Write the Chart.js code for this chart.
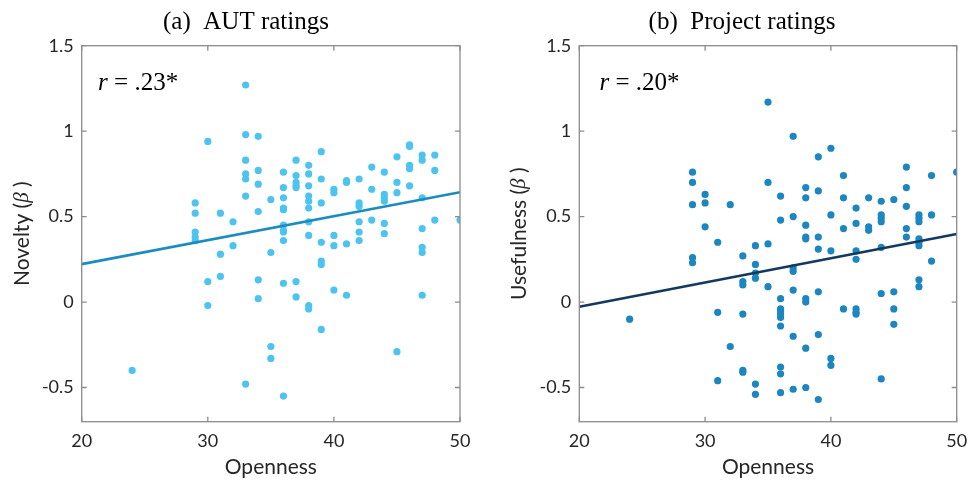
<!DOCTYPE html>
<html>
<head>
<meta charset="utf-8">
<script src="https://cdn.jsdelivr.net/npm/chart.js@4.4.0/dist/chart.umd.min.js"></script>
<style>
  html, body { margin: 0; padding: 0; background: #fff; }
  .panel { position: absolute; top: 0; height: 483px; }
  #panelA { left: 0; width: 484px; }
  #panelB { left: 485px; width: 484px; }
</style>
</head>
<body>
<div class="panel" id="panelA"><canvas id="chartA"></canvas></div>
<div class="panel" id="panelB"><canvas id="chartB"></canvas></div>
<script>
// axis ticks (shared by both panels)
const xTicks = [20, 30, 40, 50];
const yTicks = [-0.5, 0, 0.5, 1, 1.5];

// (a) AUT ratings: openness vs novelty beta
const autOpenness = [24,
  29, 29, 29, 29, 29,
  30, 30, 30,
  31, 31, 31,
  32, 32,
  33, 33, 33, 33, 33, 33, 33,
  34, 34, 34, 34, 34, 34,
  35, 35, 35, 35,
  36, 36, 36, 36, 36, 36, 36, 36, 36, 36, 36,
  37, 37, 37, 37, 37, 37, 37,
  38, 38, 38, 38, 38, 38, 38, 38, 38, 38,
  39, 39, 39, 39, 39, 39, 39,
  40, 40, 40, 40, 40,
  41, 41, 41, 41,
  42, 42, 42, 42, 42, 42,
  43, 43, 43,
  44, 44, 44, 44, 44, 44,
  45, 45, 45, 45,
  46, 46, 46, 46, 46,
  47, 47, 47, 47, 47, 47, 47,
  48, 48, 48,
  50];
const autNovelty = [-0.40,
  0.58, 0.52, 0.41, 0.38, 0.36,
  0.94, 0.12, -0.02,
  0.52, 0.28, 0.15,
  0.47, 0.33,
  1.27, 0.98, 0.83, 0.75, 0.72, 0.62, -0.48,
  0.97, 0.77, 0.69, 0.53, 0.13, 0.02,
  0.60, 0.29, -0.26, -0.33,
  0.76, 0.67, 0.61, 0.55, 0.54, 0.45, 0.42, 0.41, 0.36, 0.11, -0.55,
  0.83, 0.74, 0.70, 0.68, 0.67, 0.12, 0.03,
  0.80, 0.75, 0.68, 0.62, 0.59, 0.55, 0.47, 0.39, -0.02, -0.04,
  0.88, 0.72, 0.58, 0.35, 0.24, 0.22, -0.16,
  0.66, 0.64, 0.39, 0.33, 0.07,
  0.71, 0.70, 0.34, 0.04,
  0.72, 0.58, 0.56, 0.47, 0.41, 0.36,
  0.79, 0.66, 0.48,
  0.76, 0.63, 0.61, 0.59, 0.46, 0.40,
  0.85, 0.70, 0.64, -0.29,
  0.92, 0.91, 0.80, 0.78, 0.68,
  0.86, 0.83, 0.61, 0.43, 0.32, 0.29, 0.04,
  0.86, 0.77, 0.48,
  0.48];
const autFitX = [20, 50];
const autFitY = [0.222, 0.643];

// (b) Project ratings: openness vs usefulness beta
const projOpenness = [24,
  29, 29, 29, 29, 29,
  30, 30, 30,
  31, 31, 31,
  32, 32,
  33, 33, 33, 33, 33, 33,
  34, 34, 34, 34, 34, 34,
  35, 35, 35, 35,
  36, 36, 36, 36, 36, 36, 36, 36, 36, 36, 36,
  37, 37, 37, 37, 37, 37, 37,
  38, 38, 38, 38, 38, 38, 38, 38, 38,
  39, 39, 39, 39, 39, 39, 39,
  40, 40, 40, 40, 40,
  41, 41, 41, 41,
  42, 42, 42, 42, 42, 42, 42,
  43, 43, 43,
  44, 44, 44, 44, 44, 44, 44,
  45, 45, 45, 45,
  46, 46, 46, 46, 46,
  47, 47, 47, 47, 47, 47, 47, 47,
  48, 48, 48,
  50];
const projUsefulness = [-0.10,
  0.76, 0.70, 0.57, 0.26, 0.23,
  0.63, 0.58, 0.44,
  0.35, -0.06, -0.46,
  0.57, -0.26,
  0.27, 0.12, 0.10, -0.07, -0.40, -0.41,
  0.33, 0.22, 0.17, 0.14, -0.48, -0.54,
  1.17, 0.70, 0.34, 0.09,
  0.62, 0.48, 0.02, -0.04, -0.05, -0.07, -0.09, -0.14, -0.38, -0.42, -0.53,
  0.97, 0.50, 0.20, 0.18, 0.07, -0.20, -0.51,
  0.67, 0.61, 0.45, 0.38, 0.37, 0.02, 0.00, -0.27, -0.50,
  0.85, 0.65, 0.38, 0.31, 0.06, -0.19, -0.57,
  0.90, 0.51, 0.30, -0.33, -0.37,
  0.74, 0.61, 0.43, -0.04,
  0.55, 0.46, 0.30, 0.25, -0.04, -0.06, -0.07,
  0.61, 0.44, 0.42,
  0.59, 0.51, 0.49, 0.47, 0.32, 0.05, -0.45,
  0.60, 0.06, -0.04, -0.13,
  0.79, 0.67, 0.56, 0.43, 0.38,
  0.51, 0.49, 0.47, 0.37, 0.35, 0.33, 0.13, 0.09,
  0.74, 0.51, 0.24,
  0.76];
const projFitX = [20, 50];
const projFitY = [-0.027, 0.398];

const AXIS_GREY = '#8c8c8c';
const TICK_TEXT = '#262626';
const SERIF = '"Liberation Serif", serif';

// MATLAB-like box with ticks pointing inward on all four sides
const boxPlugin = {
  id: 'box',
  afterDraw(chart) {
    const { ctx, chartArea: a, scales: { x, y } } = chart;
    const len = 5;
    ctx.save();
    ctx.strokeStyle = AXIS_GREY;
    ctx.lineWidth = 1.3;
    ctx.strokeRect(a.left, a.top, a.right - a.left, a.bottom - a.top);
    ctx.beginPath();
    xTicks.forEach(v => {
      const px = x.getPixelForValue(v);
      ctx.moveTo(px, a.bottom); ctx.lineTo(px, a.bottom - len);
      ctx.moveTo(px, a.top); ctx.lineTo(px, a.top + len);
    });
    yTicks.forEach(v => {
      const py = y.getPixelForValue(v);
      ctx.moveTo(a.left, py); ctx.lineTo(a.left + len, py);
      ctx.moveTo(a.right, py); ctx.lineTo(a.right - len, py);
    });
    ctx.stroke();
    ctx.restore();
  }
};

// draw a run of [text, font] pieces left to right, centred on cx
function drawRuns(ctx, runs, cx, cy) {
  let total = 0;
  runs.forEach(([t, f]) => { ctx.font = f; total += ctx.measureText(t).width; });
  let px = cx - total / 2;
  runs.forEach(([t, f]) => {
    ctx.font = f;
    ctx.fillText(t, px, cy);
    px += ctx.measureText(t).width;
  });
}

// panel heading, y-axis title with italic beta, and the "r = .23*" label
const textPlugin = {
  id: 'panelText',
  afterDatasetsDraw(chart, args, opts) {
    const { ctx, chartArea: a, scales: { x, y } } = chart;
    ctx.save();
    ctx.textBaseline = 'middle';
    ctx.textAlign = 'left';

    ctx.fillStyle = '#000';
    drawRuns(ctx, [[opts.title, '25px ' + SERIF]], opts.titleX, 22);

    ctx.save();
    ctx.fillStyle = TICK_TEXT;
    ctx.translate(opts.yTitleX, (a.top + a.bottom) / 2);
    ctx.rotate(-Math.PI / 2);
    drawRuns(ctx, [
      [opts.yTitle + ' (', '21px Lato'],
      ['β', 'italic 21px ' + SERIF],
      [' )', '21px Lato']
    ], 0, 0);
    ctx.restore();

    const px = x.getPixelForValue(opts.x);
    const py = y.getPixelForValue(opts.y);
    ctx.fillStyle = '#000';
    ctx.font = 'italic 25px ' + SERIF;
    ctx.fillText('r', px, py);
    const w = ctx.measureText('r').width;
    ctx.font = '25px ' + SERIF;
    ctx.fillText(' = ' + opts.text, px + w, py);
    ctx.restore();
  }
};

function makeChart(id, cfg) {
  const points = cfg.xs.map((v, i) => ({ x: v, y: cfg.ys[i] }));
  const fit = cfg.fitX.map((v, i) => ({ x: v, y: cfg.fitY[i] }));
  return new Chart(document.getElementById(id), {
    type: 'scatter',
    data: {
      datasets: [
        {
          data: fit,
          showLine: true,
          borderColor: cfg.lineColor,
          borderWidth: 2.6,
          pointRadius: 0,
          order: 0
        },
        {
          data: points,
          backgroundColor: cfg.pointColor,
          borderWidth: 0,
          pointRadius: 3.6,
          order: 1
        }
      ]
    },
    options: {
      responsive: true,
      maintainAspectRatio: false,
      animation: false,
      layout: { padding: { left: 0, right: cfg.padRight, top: 45.7, bottom: 0 } },
      plugins: {
        legend: { display: false },
        tooltip: { enabled: false },
        title: { display: false },
        panelText: {
          title: cfg.title, titleX: cfg.titleX,
          yTitle: cfg.yTitle, yTitleX: cfg.yTitleX,
          x: cfg.rX, y: cfg.rY, text: cfg.rText
        }
      },
      scales: {
        x: {
          type: 'linear',
          min: 20, max: 50,
          afterBuildTicks: s => { s.ticks = xTicks.map(v => ({ value: v })); },
          afterFit: s => { s.height = 61.3; s.paddingLeft = 0; s.paddingRight = 0; },
          grid: { display: false, drawTicks: false },
          border: { display: false },
          ticks: { color: TICK_TEXT, font: { family: 'Lato', size: 18 }, padding: 8.5, maxRotation: 0 },
          title: {
            display: true, text: 'Openness', color: TICK_TEXT,
            font: { family: 'Lato', size: 21 }, padding: { top: 0, bottom: 3 }
          }
        },
        y: {
          type: 'linear',
          min: -0.7, max: 1.5,
          afterBuildTicks: s => { s.ticks = yTicks.map(v => ({ value: v })); },
          afterFit: s => { s.width = cfg.yWidth; s.paddingTop = 0; s.paddingBottom = 0; },
          grid: { display: false, drawTicks: false },
          border: { display: false },
          ticks: { color: TICK_TEXT, font: { family: 'Lato', size: 18 }, padding: 8, callback: v => String(v) }
        }
      }
    },
    plugins: [boxPlugin, textPlugin]
  });
}

makeChart('chartA', {
  xs: autOpenness, ys: autNovelty, fitX: autFitX, fitY: autFitY,
  pointColor: '#4dc4f0', lineColor: '#1a8cc0',
  title: '(a)  AUT ratings', titleX: 246,
  yTitle: 'Novelty', yTitleX: 22,
  rX: 21.3, rY: 1.28, rText: '.23*',
  yWidth: 81.7, padRight: 24
});

makeChart('chartB', {
  xs: projOpenness, ys: projUsefulness, fitX: projFitX, fitY: projFitY,
  pointColor: '#1c86c0', lineColor: '#133a5e',
  title: '(b)  Project ratings', titleX: 257,
  yTitle: 'Usefulness', yTitleX: 34,
  rX: 21.6, rY: 1.28, rText: '.20*',
  yWidth: 94.3, padRight: 12.3
});
</script>
</body>
</html>
